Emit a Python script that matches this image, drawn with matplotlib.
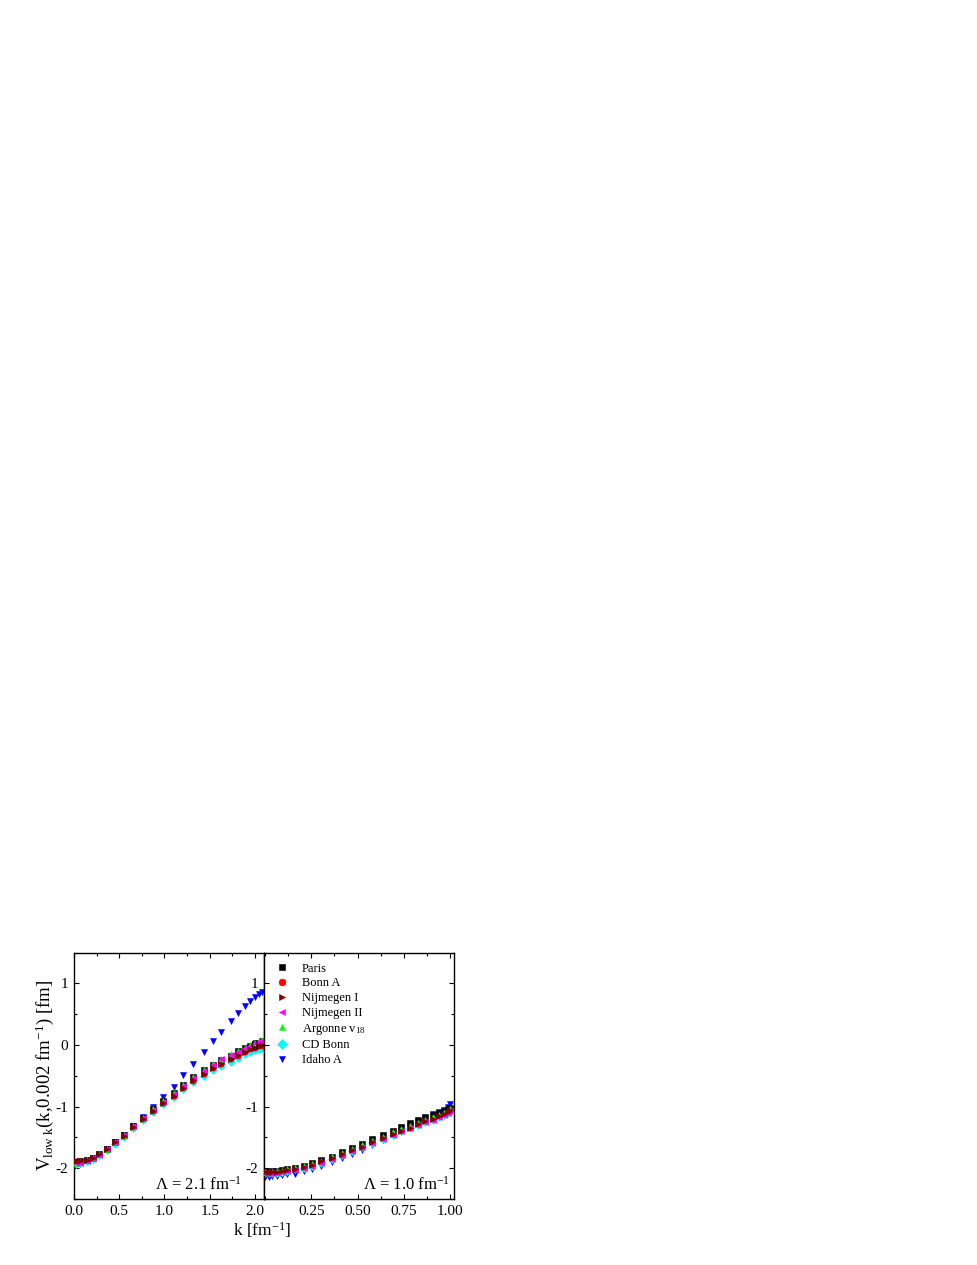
import matplotlib
matplotlib.use('Agg')
import matplotlib.pyplot as plt
from matplotlib.ticker import MultipleLocator

plt.rcParams['font.family'] = ['Liberation Serif', 'DejaVu Serif']
plt.rcParams['mathtext.fontset'] = 'custom'
plt.rcParams['mathtext.rm'] = 'Liberation Serif'
plt.rcParams['mathtext.it'] = 'Liberation Serif:italic'

# --- data ---
names = ['Paris', 'Bonn A', 'Nijmegen I', 'Nijmegen II', r'Argonne v$_{18}$', 'CD Bonn', 'Idaho A']
colors = ['black', 'red', '#800000', 'magenta', '#00ff00', 'cyan', 'blue']
markers = ['s', 'o', '>', '<', '^', 'D', 'v']
zorders = [4, 3, 7, 6, 5, 2, 1]

# Lambda = 2.1 fm^-1
k_left = [0.02, 0.07, 0.14, 0.21, 0.28, 0.36, 0.45, 0.55, 0.65, 0.76, 0.87, 0.98, 1.10,
          1.21, 1.32, 1.44, 1.54, 1.63, 1.73, 1.81, 1.89, 1.95, 2.00, 2.05, 2.08]
paris_l = [-1.90, -1.89, -1.87, -1.83, -1.77, -1.68, -1.57, -1.46, -1.32, -1.18, -1.04, -0.91, -0.78,
           -0.65, -0.52, -0.41, -0.32, -0.25, -0.17, -0.10, -0.05, -0.01, 0.02, 0.04, 0.06]
bonna_l = [-1.89, -1.88, -1.86, -1.83, -1.77, -1.69, -1.58, -1.47, -1.33, -1.20, -1.07, -0.94, -0.83,
           -0.70, -0.58, -0.47, -0.38, -0.31, -0.23, -0.17, -0.11, -0.07, -0.04, -0.02, -0.01]
nijm1_l = [-1.88, -1.88, -1.86, -1.83, -1.77, -1.69, -1.58, -1.47, -1.33, -1.20, -1.07, -0.94, -0.83,
           -0.70, -0.57, -0.47, -0.37, -0.31, -0.23, -0.16, -0.11, -0.06, -0.04, -0.02, 0.00]
nijm2_l = [-1.92, -1.91, -1.88, -1.84, -1.78, -1.69, -1.58, -1.46, -1.32, -1.19, -1.05, -0.92, -0.79,
           -0.66, -0.53, -0.42, -0.32, -0.23, -0.16, -0.11, -0.05, -0.01, 0.03, 0.05, 0.07]
argon_l = [-1.91, -1.90, -1.87, -1.83, -1.77, -1.68, -1.57, -1.46, -1.32, -1.18, -1.04, -0.91, -0.78,
           -0.65, -0.52, -0.41, -0.31, -0.23, -0.15, -0.09, -0.04, 0.00, 0.04, 0.06, 0.08]
cdbonn_l = [-1.93, -1.92, -1.89, -1.85, -1.79, -1.71, -1.60, -1.49, -1.35, -1.22, -1.09, -0.96, -0.84,
            -0.72, -0.60, -0.50, -0.41, -0.34, -0.27, -0.21, -0.15, -0.11, -0.08, -0.06, -0.05]
idaho_l = [-1.94, -1.93, -1.90, -1.85, -1.78, -1.69, -1.58, -1.46, -1.31, -1.17, -1.01, -0.85, -0.68,
           -0.49, -0.31, -0.11, 0.06, 0.22, 0.39, 0.52, 0.63, 0.71, 0.78, 0.83, 0.86]

# Lambda = 1.0 fm^-1
k_right = [0.003, 0.02, 0.04, 0.065, 0.09, 0.12, 0.16, 0.21, 0.255, 0.305, 0.36, 0.415, 0.47,
           0.525, 0.58, 0.635, 0.69, 0.735, 0.785, 0.825, 0.865, 0.905, 0.94, 0.965, 0.985, 0.997]
paris_r = [-2.06, -2.06, -2.05, -2.05, -2.03, -2.02, -2.00, -1.96, -1.92, -1.87, -1.81, -1.74, -1.67,
           -1.60, -1.53, -1.46, -1.39, -1.33, -1.27, -1.22, -1.17, -1.13, -1.10, -1.07, -1.04, -1.02]
bonna_r = [-2.07, -2.07, -2.06, -2.06, -2.05, -2.03, -2.01, -1.98, -1.95, -1.90, -1.84, -1.78, -1.71,
           -1.65, -1.58, -1.51, -1.45, -1.39, -1.34, -1.29, -1.24, -1.20, -1.16, -1.12, -1.09, -1.06]
nijm1_r = [-2.06, -2.06, -2.06, -2.06, -2.04, -2.03, -2.01, -1.98, -1.945, -1.89, -1.84, -1.77, -1.71,
           -1.66, -1.58, -1.51, -1.44, -1.39, -1.34, -1.29, -1.24, -1.20, -1.16, -1.12, -1.08, -1.06]
nijm2_r = [-2.08, -2.08, -2.08, -2.07, -2.06, -2.05, -2.03, -2.00, -1.96, -1.91, -1.85, -1.79, -1.72,
           -1.66, -1.59, -1.52, -1.46, -1.40, -1.35, -1.30, -1.25, -1.21, -1.17, -1.13, -1.10, -1.07]
argon_r = [-2.06, -2.06, -2.06, -2.05, -2.04, -2.02, -2.00, -1.97, -1.93, -1.88, -1.82, -1.76, -1.69,
           -1.63, -1.56, -1.49, -1.42, -1.37, -1.31, -1.26, -1.21, -1.17, -1.13, -1.10, -1.07, -1.04]
cdbonn_r = [-2.08, -2.08, -2.07, -2.07, -2.06, -2.04, -2.02, -1.99, -1.96, -1.91, -1.85, -1.79, -1.72,
            -1.66, -1.59, -1.52, -1.46, -1.40, -1.35, -1.30, -1.25, -1.21, -1.17, -1.13, -1.10, -1.07]
idaho_r = [-2.14, -2.14, -2.13, -2.12, -2.11, -2.10, -2.09, -2.05, -2.01, -1.96, -1.90, -1.84, -1.77,
           -1.70, -1.62, -1.54, -1.46, -1.39, -1.32, -1.25, -1.18, -1.12, -1.08, -1.05, -1.00, -0.95]

left_sets = [paris_l, bonna_l, nijm1_l, nijm2_l, argon_l, cdbonn_l, idaho_l]
right_sets = [paris_r, bonna_r, nijm1_r, nijm2_r, argon_r, cdbonn_r, idaho_r]

fig = plt.figure(figsize=(9.78, 12.65), dpi=100)
W, H = 978.0, 1265.0
ax1 = fig.add_axes([74 / W, 1 - 1199 / H, 190 / W, 246.3 / H])
ax2 = fig.add_axes([264 / W, 1 - 1199 / H, 190 / W, 246.3 / H])

for i in range(len(names)):
    ax1.plot(k_left, left_sets[i], ls='none', marker=markers[i], ms=3.8, mew=0.4,
             color=colors[i], mec=colors[i], zorder=zorders[i])
    ax2.plot(k_right, right_sets[i], ls='none', marker=markers[i], ms=3.8, mew=0.4,
             color=colors[i], mec=colors[i], zorder=zorders[i], label=names[i])

ax1.set_xlim(0, 2.1)
ax2.set_xlim(-0.005, 1.02)
for ax in (ax1, ax2):
    ax.set_ylim(-2.5, 1.5)
    ax.yaxis.set_minor_locator(MultipleLocator(0.5))
    ax.tick_params(which='both', direction='in', labelsize=11, pad=4)
    ax.tick_params(which='major', length=3.5, width=0.8)
    ax.tick_params(which='minor', length=2, width=0.8)
    for s in ax.spines.values():
        s.set_linewidth(1.0)
    ax.set_yticks([-2, -1, 0, 1])
    ax.set_yticklabels(['-2', '-1', '0', '1'])

ax1.xaxis.set_major_locator(MultipleLocator(0.5))
ax1.xaxis.set_minor_locator(MultipleLocator(0.25))
ax1.xaxis.set_major_formatter(matplotlib.ticker.FormatStrFormatter('%.1f'))
ax1.tick_params(which='both', top=True, right=False)

ax2.set_xticks([0.25, 0.5, 0.75, 1.0])
ax2.set_xticklabels(['0.25', '0.50', '0.75', '1.00'])
ax2.xaxis.set_minor_locator(MultipleLocator(0.125))
ax2.tick_params(which='both', top=True, right=True, left=True)

ax1.set_ylabel(r'V$_{\mathrm{low\ k}}$(k,0.002 fm$^{\mathrm{-1}}$) [fm]', fontsize=13.5, labelpad=0)
fig.text(262 / W, 1 - 1230 / H, r'k [fm$^{\mathrm{-1}}$]', ha='center', va='center', fontsize=12.5)

ax1.text(0.884, 0.036, r'$\Lambda$ = 2.1 fm$^{\mathrm{-1}}$', transform=ax1.transAxes,
         ha='right', va='baseline', fontsize=12)
ax2.text(0.979, 0.036, r'$\Lambda$ = 1.0 fm$^{\mathrm{-1}}$', transform=ax2.transAxes,
         ha='right', va='baseline', fontsize=12)

ax2.legend(loc='upper left', bbox_to_anchor=(0.015, 0.99), frameon=False, fontsize=9,
           handlelength=1.2, handletextpad=1.0, labelspacing=0.22, borderaxespad=0.2,
           markerscale=1.3)

fig.savefig('out.png', dpi=100)
